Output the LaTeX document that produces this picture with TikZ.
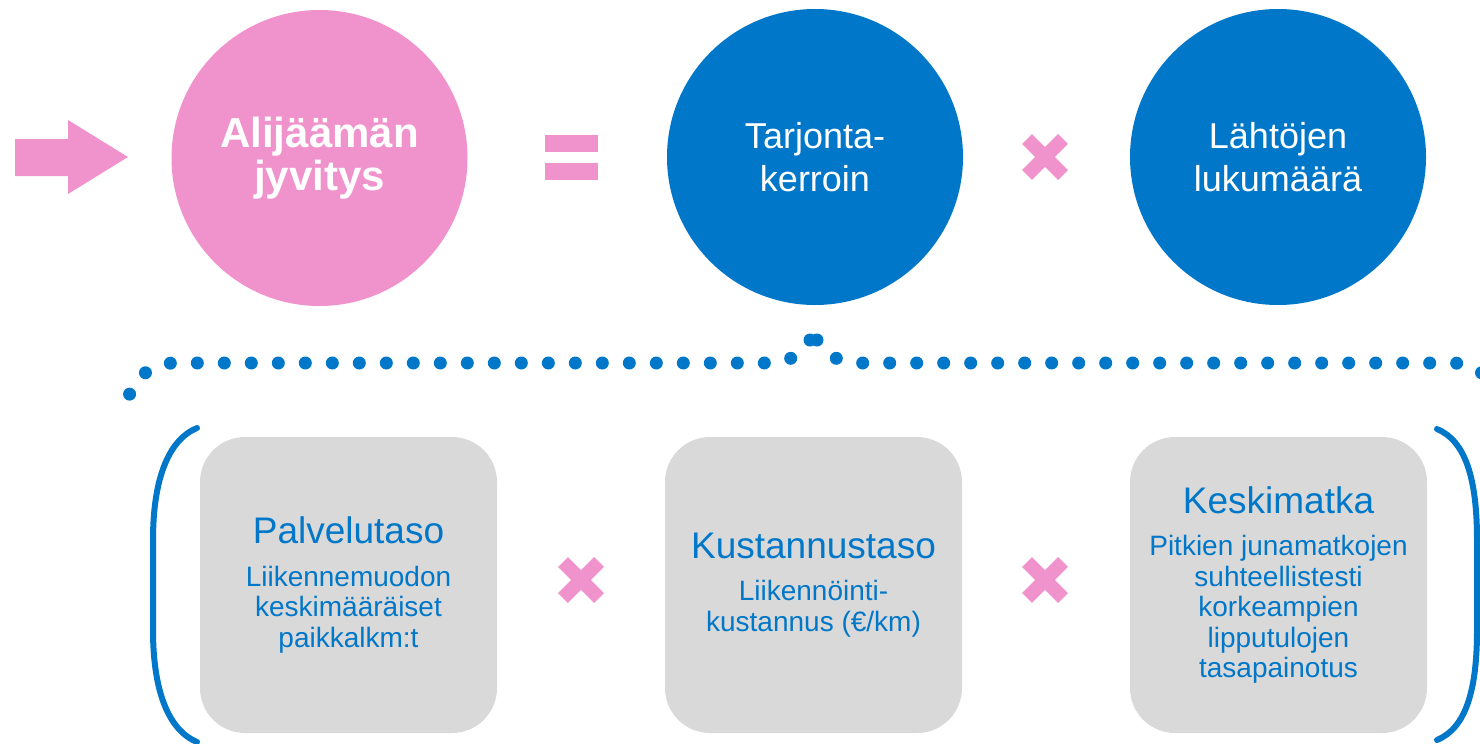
\documentclass[tikz,border=0pt]{standalone}
\usepackage{fontspec}
\setmainfont{Liberation Sans}
\usetikzlibrary{shapes.misc}
\definecolor{lpink}{HTML}{F093CC}
\definecolor{lblue}{HTML}{0077C8}
\definecolor{lgray}{HTML}{D9D9D9}
\newcommand{\titlef}{\fontsize{37}{43}\selectfont}
\newcommand{\subf}{\fontsize{28}{30.5}\selectfont}

\begin{document}
\begin{tikzpicture}[x=1pt,y=-1pt,
  ball/.style={circle,fill=lblue,minimum size=296pt,inner sep=0pt,text=white,
    align=center,font=\fontsize{36}{43}\selectfont},
  card/.style={rounded corners=45pt,fill=lgray,minimum width=297pt,
    minimum height=296pt,inner sep=0pt,text=lblue,align=center,font=\subf},
  timesop/.style={cross out,draw=lpink,line width=14pt,minimum size=36pt,
    inner sep=0pt,outer sep=0pt},
  eqbar/.style={fill=lpink,minimum width=53pt,minimum height=17pt,inner sep=0pt},
  brace/.style={lblue,line width=13pt,line cap=round,dash pattern=on 0pt off 27pt},
  paren/.style={lblue,line width=6pt,line cap=round}]
\useasboundingbox (0,0) rectangle (1480,744);

% top row
\fill[lpink] (15,139) -- (68,139) -- (68,120) -- (128,157) -- (68,194) -- (68,176) -- (15,176) -- cycle;
\node[ball,fill=lpink,font=\bfseries\fontsize{42}{43}\selectfont] (jyvitys) at (319.5,158) {Alijäämän\\jyvitys};
\node[eqbar] (eqtop) at (571.5,143.5) {};
\node[eqbar] (eqbot) at (571.5,171.5) {};
\node[ball] (kerroin) at (815,157) {Tarjonta-\\kerroin};
\node[timesop] (times1) at (1045,157) {};
\node[ball] (lahdot) at (1278,157) {Lähtöjen\\lukumäärä};

% dotted brace
\draw[brace] (810,340) .. controls (800,356) and (788,363) .. (765,363) -- (175,363)
  .. controls (150,363) and (133,380) .. (128,399);
\draw[brace] (817,340) .. controls (827,356) and (839,363) .. (862,363) -- (1452,363)
  .. controls (1477,363) and (1494,380) .. (1499,399);

% bottom row
\draw[paren] (197,428) .. controls (168,440) and (153,480) .. (153,540) -- (153,630)
  .. controls (153,690) and (168,730) .. (197,742);
\draw[paren] (1437,429) .. controls (1466,441) and (1477,480) .. (1477,540) -- (1477,630)
  .. controls (1477,690) and (1466,728) .. (1437,740);

\node[card] (palvelu) at (348.5,585) {{\titlef Palvelutaso}\\[12pt]Liikennemuodon\\keskimääräiset\\paikkalkm:t};
\node[timesop] (times2) at (581,580) {};
\node[card] (kustannus) at (813.5,585) {{\titlef Kustannustaso}\\[12pt]Liikennöinti-\\kustannus (€/km)};
\node[timesop] (times3) at (1045,580) {};
\node[card] (matka) at (1278.5,585) {{\titlef Keskimatka}\\[12pt]Pitkien junamatkojen\\suhteellistesti\\korkeampien\\lipputulojen\\tasapainotus};
\end{tikzpicture}
\end{document}
